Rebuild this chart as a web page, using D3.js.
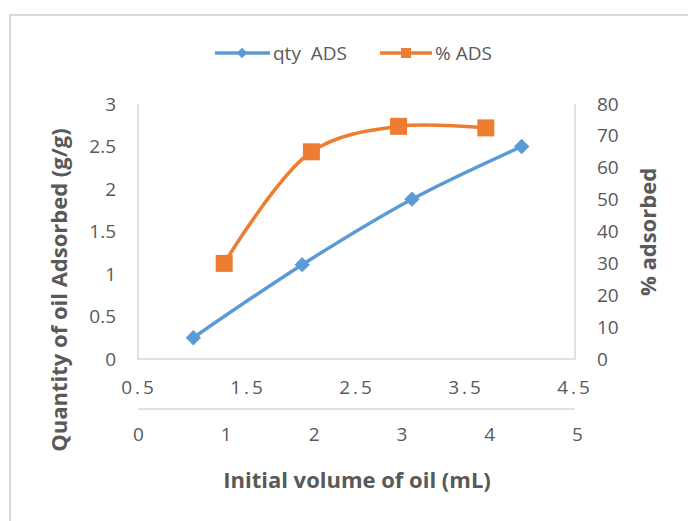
<!DOCTYPE html>
<html>
<head>
<meta charset="utf-8">
<script src="https://cdn.jsdelivr.net/npm/d3@7"></script>
<style>
  body { margin: 0; background: #fff; }
  text { font-family: "Open Sans", Lato, sans-serif; fill: #595959; }
  .tick text { font-size: 19px; }
  .title { font-size: 22px; font-weight: bold; }
</style>
</head>
<body>
<svg width="688" height="521"></svg>
<script>
// qty ADS series (primary axes: bottom 0-5, left 0-3)
var qtyX = [0.63, 1.87, 3.12, 4.37];
var qtyY = [0.25, 1.11, 1.88, 2.5];
// % ADS series (secondary axes: 0.5-4.5, right 0-80)
var pctX = [1.3, 2.1, 2.9, 3.7];
var pctY = [30, 65, 73, 72.5];

var xTicks = [0, 1, 2, 3, 4, 5];
var x2Ticks = [0.5, 1.5, 2.5, 3.5, 4.5];
var yTicks = [0, 0.5, 1, 1.5, 2, 2.5, 3];
var y2Ticks = [0, 10, 20, 30, 40, 50, 60, 70, 80];

var blue = "#5b9bd5", orange = "#ed7d31", grid = "#d9d9d9";

var svg = d3.select("svg");

// outer chart border (runs off right/bottom like the picture)
svg.append("rect")
  .attr("x", 10).attr("y", 15)
  .attr("width", 700).attr("height", 520)
  .attr("fill", "none").attr("stroke", grid).attr("stroke-width", 2);

// plot area
var pLeft = 138, pRight = 575, pTop = 104, pBottom = 359;

var x = d3.scaleLinear().domain([0, 5]).range([pLeft, pRight + 2]);
var x2 = d3.scaleLinear().domain([0.5, 4.5]).range([pLeft - 1, pRight - 2]);
var y = d3.scaleLinear().domain([0, 3]).range([pBottom, pTop]);
var y2 = d3.scaleLinear().domain([0, 80]).range([pBottom, pTop]);

// axis lines
svg.append("path")
  .attr("d", "M" + pLeft + "," + pTop + "V" + pBottom + "H" + pRight + "V" + pTop)
  .attr("fill", "none").attr("stroke", grid).attr("stroke-width", 1.5);
svg.append("line")
  .attr("x1", pLeft).attr("x2", pRight).attr("y1", 409).attr("y2", 409)
  .attr("stroke", grid).attr("stroke-width", 1.5);

// left axis labels
svg.append("g")
  .attr("transform", "translate(" + (pLeft - 22) + ",0)")
  .call(d3.axisLeft(y).tickValues(yTicks).tickSize(0).tickPadding(0)
    .tickFormat(function (d) { return d; }));

// right axis labels
svg.append("g")
  .attr("transform", "translate(" + (pRight + 22) + ",0)")
  .call(d3.axisRight(y2).tickValues(y2Ticks).tickSize(0).tickPadding(0)
    .tickFormat(d3.format("d")));

// secondary x labels (spaced digits like the picture)
svg.append("g")
  .attr("transform", "translate(0,380)")
  .call(d3.axisBottom(x2).tickValues(x2Ticks).tickSize(0).tickPadding(0)
    .tickFormat(d3.format(".1f")))
  .selectAll("text").style("letter-spacing", "3px").attr("dx", "1.5px");

// primary x labels
svg.append("g")
  .attr("transform", "translate(0,427)")
  .call(d3.axisBottom(x).tickValues(xTicks).tickSize(0).tickPadding(0)
    .tickFormat(d3.format("d")));

svg.selectAll(".tick text").attr("fill", "#595959");
svg.selectAll(".domain").remove();

// axis titles
svg.append("text").attr("class", "title")
  .attr("x", 357).attr("y", 488).attr("text-anchor", "middle")
  .text("Initial volume of oil (mL)");

svg.append("text").attr("class", "title")
  .attr("transform", "translate(67,290) rotate(-90)")
  .attr("text-anchor", "middle")
  .text("Quantity of oil Adsorbed (g/g)");

svg.append("text").attr("class", "title")
  .attr("transform", "translate(656,232) rotate(-90)")
  .attr("text-anchor", "middle")
  .text("% adsorbed");

// lines
var qtyLine = d3.line()
  .x(function (d, i) { return x(qtyX[i]); })
  .y(function (d) { return y(d); })
  .curve(d3.curveCatmullRom.alpha(0.5));

var pctLine = d3.line()
  .x(function (d, i) { return x2(pctX[i]); })
  .y(function (d) { return y2(d); })
  .curve(d3.curveCatmullRom.alpha(0.5));

svg.append("path").datum(pctY)
  .attr("d", pctLine)
  .attr("fill", "none").attr("stroke", orange).attr("stroke-width", 3.5);

svg.append("path").datum(qtyY)
  .attr("d", qtyLine)
  .attr("fill", "none").attr("stroke", blue).attr("stroke-width", 3.5);

// markers
var diamond = d3.symbol().type(d3.symbolDiamond2).size(150);
svg.selectAll("path.qty").data(qtyY)
  .enter()
  .append("path")
  .attr("class", "qty")
  .attr("d", diamond)
  .attr("transform", function (d, i) {
    return "translate(" + x(qtyX[i]) + "," + y(d) + ")";
  })
  .attr("fill", blue);

svg.selectAll("rect.pct").data(pctY)
  .enter()
  .append("rect")
  .attr("class", "pct")
  .attr("x", function (d, i) { return x2(pctX[i]) - 8.5; })
  .attr("y", function (d) { return y2(d) - 8.5; })
  .attr("width", 17).attr("height", 17)
  .attr("fill", orange);

// legend
var lg = svg.append("g").attr("transform", "translate(0,53)");
lg.append("line").attr("x1", 215).attr("x2", 270).attr("y1", 0).attr("y2", 0)
  .attr("stroke", blue).attr("stroke-width", 3.5);
lg.append("path").attr("d", d3.symbol().type(d3.symbolDiamond2).size(70))
  .attr("transform", "translate(242,0)").attr("fill", blue);
lg.append("text").attr("x", 273).attr("y", 7).style("font-size", "19px")
  .style("white-space", "pre").text("qty  ADS");

lg.append("line").attr("x1", 380).attr("x2", 432).attr("y1", 0).attr("y2", 0)
  .attr("stroke", orange).attr("stroke-width", 3.5);
lg.append("rect").attr("x", 401).attr("y", -5).attr("width", 10).attr("height", 10)
  .attr("fill", orange);
lg.append("text").attr("x", 435).attr("y", 7).style("font-size", "19px")
  .text("% ADS");
</script>
</body>
</html>
